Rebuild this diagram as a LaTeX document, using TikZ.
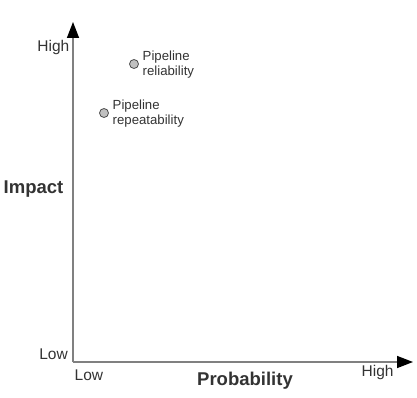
\documentclass[tikz,border=0pt]{standalone}
\usepackage{fontspec}
\setmainfont{Liberation Sans}
\usetikzlibrary{arrows.meta}
\definecolor{txt}{HTML}{333333}
\definecolor{axisgray}{HTML}{808080}
\definecolor{dotfill}{HTML}{C0C0C0}
\begin{document}
\begin{tikzpicture}[x=1pt,y=1pt,
  axis/.style={draw=axisgray,line width=1.5pt,-{Triangle[length=16pt,width=12pt,black]}},
  ticklabel/.style={inner sep=0pt,text=txt,font=\fontsize{15.5}{18}\selectfont},
  axislabel/.style={inner sep=0pt,text=txt,font=\fontsize{18.5}{22}\selectfont\bfseries},
  dot/.style={circle,draw=black!70,fill=dotfill,line width=0.8pt,minimum size=9pt,inner sep=0pt},
  risklabel/.style={inner sep=0pt,text=txt,align=left,font=\fontsize{13.2}{15}\selectfont}]
\useasboundingbox (0,0) rectangle (417,397);
\coordinate (O) at (73,35);
\coordinate (ytip) at (73,375);
\coordinate (xtip) at (413,35);
\draw[axis] (O) -- (ytip);
\draw[axis] (O) -- (xtip);
\node[ticklabel,anchor=east] (yhigh) at (69.5,350) {High};
\node[ticklabel,anchor=east] (ylow) at (68,43) {Low};
\node[ticklabel,anchor=west] (xlow) at (74.5,22) {Low};
\node[ticklabel,anchor=west] (xhigh) at (361.5,25) {High};
\node[axislabel] (prob) at (245,16) {Probability};
\node[axislabel] (impact) at (33.5,208) {Impact};
\node[dot] (d1) at (134,333) {};
\node[dot] (d2) at (104,284) {};
\node[risklabel,anchor=west] (l1) at (142.5,332.5) {Pipeline\\reliability};
\node[risklabel,anchor=west] (l2) at (112.5,283.5) {Pipeline\\repeatability};
\end{tikzpicture}
\end{document}
